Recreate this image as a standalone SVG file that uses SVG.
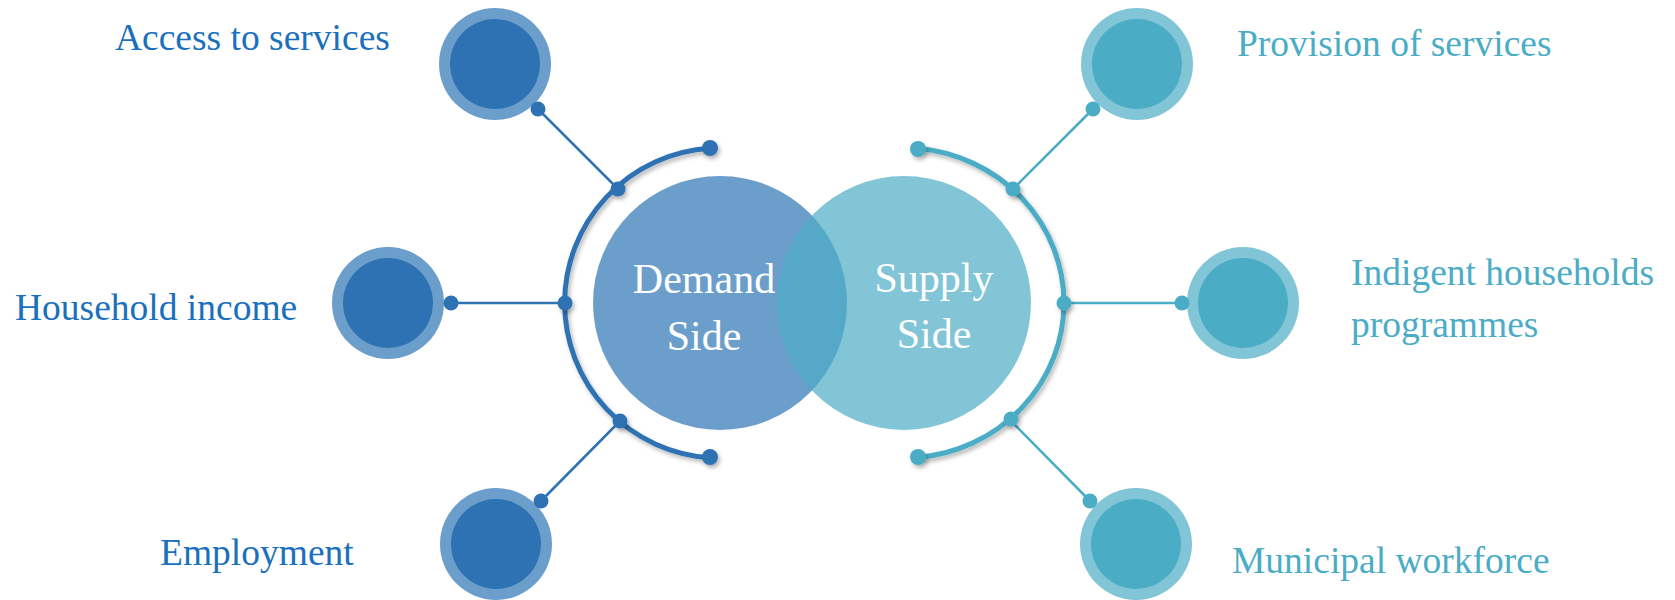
<svg xmlns="http://www.w3.org/2000/svg" width="1675" height="600" viewBox="0 0 1675 600">
<defs>
<filter id="sh" x="-20%" y="-20%" width="140%" height="140%">
<feDropShadow dx="2" dy="3" stdDeviation="2" flood-color="#000" flood-opacity="0.28"/>
</filter>
<style>
.lbl{font-family:"Liberation Serif","DejaVu Serif",serif;font-size:37.5px}
.cl{font-family:"Liberation Serif","DejaVu Serif",serif;font-size:42px;fill:#fff;text-anchor:middle}
.bl{fill:#1A70BC}
.aq{fill:#4BACC6}
.ob{fill:#2E75B6;fill-opacity:0.7}
.ib{fill:#2E72B3}
.oa{fill:#4BACC6;fill-opacity:0.7}
.ia{fill:#4BACC6}
.lb{stroke:#2E72B3;stroke-width:2.5;fill:none}
.la{stroke:#4BACC6;stroke-width:2.5;fill:none}
.arcb{stroke:#2E72B3;stroke-width:5;fill:none;stroke-linecap:round}
.arca{stroke:#4BACC6;stroke-width:5;fill:none;stroke-linecap:round}
.db{fill:#2E72B3}
.da{fill:#4BACC6}
</style>
</defs>
<rect width="1675" height="600" fill="#fff"/>

<g id="demand">
<circle cx="720" cy="303" r="127" class="ob"/>
<text class="cl" x="704" y="293">Demand</text>
<text class="cl" x="704" y="350">Side</text>
</g>
<g id="supply">
<circle cx="904" cy="303" r="127" class="oa"/>
<text class="cl" x="934" y="292">Supply</text>
<text class="cl" x="934" y="348">Side</text>
</g>

<g id="connectors">
<g filter="url(#sh)">
<path class="arcb" d="M 710 148.3 A 155 155 0 0 0 710 457.7"/>
<path class="arca" d="M 918 148.6 A 160 155 0 0 1 918 457.4"/>
</g>
<line class="lb" x1="538" y1="109" x2="618" y2="189"/>
<line class="lb" x1="451" y1="303" x2="565" y2="303"/>
<line class="lb" x1="541" y1="501" x2="620" y2="421"/>
<line class="la" x1="1093" y1="109" x2="1013" y2="189"/>
<line class="la" x1="1182" y1="303" x2="1064" y2="303"/>
<line class="la" x1="1090" y1="501" x2="1011" y2="421"/>
<g filter="url(#sh)">
<circle class="db" cx="710" cy="148" r="8"/>
<circle class="db" cx="710" cy="457" r="8"/>
<circle class="db" cx="618" cy="189" r="7.5"/>
<circle class="db" cx="565" cy="303" r="7.5"/>
<circle class="db" cx="620" cy="421" r="7.5"/>
<circle class="da" cx="918" cy="149" r="8"/>
<circle class="da" cx="918" cy="457" r="8"/>
<circle class="da" cx="1013" cy="189" r="7.5"/>
<circle class="da" cx="1064" cy="303" r="7.5"/>
<circle class="da" cx="1011" cy="419" r="7.5"/>
</g>
<circle class="db" cx="538" cy="109" r="7.5"/>
<circle class="db" cx="451" cy="303" r="7.5"/>
<circle class="db" cx="541" cy="501" r="7.5"/>
<circle class="da" cx="1093" cy="109" r="7.5"/>
<circle class="da" cx="1182" cy="303" r="7.5"/>
<circle class="da" cx="1090" cy="501" r="7.5"/>
</g>

<g id="access">
<circle cx="495" cy="64" r="56" class="ob"/>
<circle cx="495" cy="64" r="45" class="ib"/>
<text class="lbl bl" x="115" y="50">Access to services</text>
</g>
<g id="income">
<circle cx="388" cy="303" r="56" class="ob"/>
<circle cx="388" cy="303" r="45" class="ib"/>
<text class="lbl bl" x="15" y="320">Household income</text>
</g>
<g id="employment">
<circle cx="496" cy="544" r="56" class="ob"/>
<circle cx="496" cy="544" r="45" class="ib"/>
<text class="lbl bl" x="160" y="565">Employment</text>
</g>
<g id="provision">
<circle cx="1137" cy="64" r="56" class="oa"/>
<circle cx="1137" cy="64" r="45" class="ia"/>
<text class="lbl aq" x="1237" y="56">Provision of services</text>
</g>
<g id="indigent">
<circle cx="1243" cy="303" r="56" class="oa"/>
<circle cx="1243" cy="303" r="45" class="ia"/>
<text class="lbl aq" x="1351" y="285">Indigent households</text>
<text class="lbl aq" x="1351" y="337">programmes</text>
</g>
<g id="workforce">
<circle cx="1136" cy="544" r="56" class="oa"/>
<circle cx="1136" cy="544" r="45" class="ia"/>
<text class="lbl aq" x="1232" y="573">Municipal workforce</text>
</g>
</svg>
